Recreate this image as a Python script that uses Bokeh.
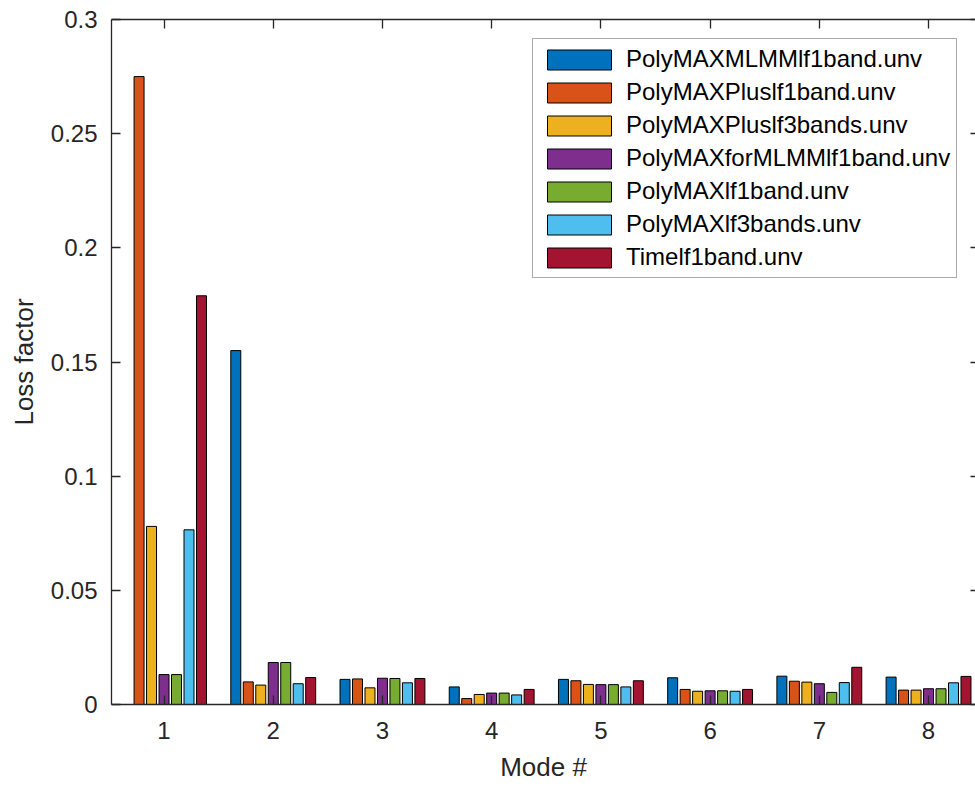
import numpy as np
from bokeh.plotting import figure
from bokeh.models import (Range1d, LinearAxis, FixedTicker, Legend, LegendItem,
                          CustomJSTickFormatter, ColumnDataSource)
from bokeh.embed import file_html
from bokeh.resources import INLINE

# Loss factor per mode, one list per identification run
modes = [1, 2, 3, 4, 5, 6, 7, 8]

series_names = [
    "PolyMAXMLMMlf1band.unv",
    "PolyMAXPluslf1band.unv",
    "PolyMAXPluslf3bands.unv",
    "PolyMAXforMLMMlf1band.unv",
    "PolyMAXlf1band.unv",
    "PolyMAXlf3bands.unv",
    "Timelf1band.unv",
]

polymax_mlmm_1band = [0.0, 0.155, 0.0110, 0.0077, 0.0110, 0.0117, 0.0124, 0.0120]
polymax_plus_1band = [0.275, 0.0099, 0.0112, 0.0026, 0.0104, 0.0066, 0.0102, 0.0063]
polymax_plus_3bands = [0.078, 0.0085, 0.0073, 0.0044, 0.0088, 0.0058, 0.0098, 0.0063]
polymax_for_mlmm_1band = [0.0131, 0.0184, 0.0115, 0.0050, 0.0087, 0.0060, 0.0091, 0.0069]
polymax_1band = [0.0131, 0.0184, 0.0114, 0.0050, 0.0087, 0.0060, 0.0053, 0.0069]
polymax_3bands = [0.0765, 0.0091, 0.0095, 0.0042, 0.0077, 0.0058, 0.0096, 0.0095]
time_1band = [0.179, 0.0118, 0.0114, 0.0066, 0.0104, 0.0066, 0.0163, 0.0123]

series_values = [polymax_mlmm_1band, polymax_plus_1band, polymax_plus_3bands,
                 polymax_for_mlmm_1band, polymax_1band, polymax_3bands, time_1band]

y_ticks = [0, 0.05, 0.1, 0.15, 0.2, 0.25, 0.3]
y_tick_labels = ["0", "0.05", "0.1", "0.15", "0.2", "0.25", "0.3"]

colors = ["#0072BD", "#D95319", "#EDB120", "#7E2F8E", "#77AC30", "#4DBEEE", "#A2142F"]
AX = "#262626"
FONT = "Liberation Sans"

n = len(series_values)
group_width = 0.8
pitch = group_width / n
bar_width = pitch * 0.8

p = figure(width=975, height=787, output_backend="svg", toolbar_location=None,
           x_range=Range1d(0.519, 8.43), y_range=Range1d(0, 0.3),
           min_border_left=111, min_border_right=0, min_border_top=19,
           min_border_bottom=83, x_axis_location=None, y_axis_location=None)
p.title.visible = False
p.grid.visible = False
p.outline_line_color = None
p.background_fill_color = "white"
p.border_fill_color = "white"

legend_items = []
for i, (name, vals, col) in enumerate(zip(series_names, series_values, colors)):
    xs = np.array(modes, dtype=float) + (i - (n - 1) / 2) * pitch
    src = ColumnDataSource(dict(x=xs, top=vals))
    r = p.vbar(x="x", top="top", bottom=0, width=bar_width, source=src,
               fill_color=col, line_color="black", line_width=1)
    legend_items.append(LegendItem(label=name, renderers=[r]))


def style_axis(ax, labels=True):
    ax.axis_line_color = AX
    ax.axis_line_width = 1.3
    ax.major_tick_line_color = AX
    ax.major_tick_line_width = 1.3
    ax.major_tick_in = 9
    ax.major_tick_out = 0
    ax.minor_tick_line_color = None
    ax.major_label_text_font = FONT
    ax.major_label_text_color = AX
    ax.major_label_text_font_size = "24px"
    ax.axis_label_text_font = FONT
    ax.axis_label_text_color = AX
    ax.axis_label_text_font_size = "26px"
    ax.axis_label_text_font_style = "normal"
    if not labels:
        ax.formatter = CustomJSTickFormatter(code="return ''")
        ax.major_label_text_font_size = "0px"
        ax.major_label_standoff = 0


x_ticker = FixedTicker(ticks=modes)
y_ticker = FixedTicker(ticks=y_ticks)

xb = LinearAxis(ticker=x_ticker, axis_label="Mode #")
style_axis(xb)
xb.major_label_standoff = 17
xb.axis_label_standoff = 10
p.add_layout(xb, "below")

yl = LinearAxis(ticker=y_ticker, axis_label="Loss factor")
style_axis(yl)
yl.major_label_overrides = {t: s for t, s in zip(y_ticks, y_tick_labels)}
yl.major_label_standoff = 14
yl.axis_label_standoff = 9
p.add_layout(yl, "left")

xt = LinearAxis(ticker=x_ticker)
style_axis(xt, labels=False)
p.add_layout(xt, "above")

yr = LinearAxis(ticker=y_ticker)
style_axis(yr, labels=False)
yr.axis_line_color = None
yr.major_tick_in = 5
p.add_layout(yr, "right")

legend = Legend(items=legend_items, location=(421, 426),
                label_text_font=FONT, label_text_font_size="24px",
                label_text_color="black", glyph_width=80, glyph_height=25,
                label_height=25, label_standoff=7, spacing=5, padding=6,
                margin=0, border_line_color="#555555", border_line_width=1,
                background_fill_color="white", background_fill_alpha=1)
p.add_layout(legend)

open("out.html", "w").write(file_html(p, INLINE))
